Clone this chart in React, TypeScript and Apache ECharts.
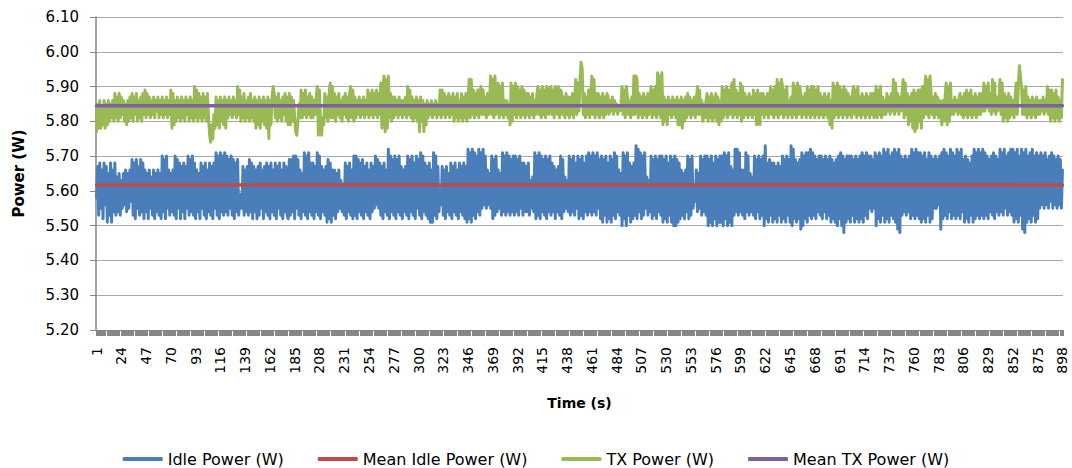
import React, { useEffect, useRef } from "react";
import * as echarts from "echarts";

// Idle power (W), one value per second
const idleA = [
  5.58, 5.67, 5.53, 5.68, 5.55, 5.66, 5.52, 5.68, 5.56, 5.67, 5.51, 5.65, 5.53, 5.68, 5.51, 5.66, 5.54, 5.68, 5.53, 5.64,
  5.54, 5.65, 5.53, 5.63, 5.55, 5.65, 5.56, 5.66, 5.54, 5.65, 5.55, 5.66, 5.57, 5.69, 5.53, 5.68, 5.52, 5.69, 5.55, 5.67,
  5.53, 5.69, 5.54, 5.68, 5.52, 5.66, 5.54, 5.65, 5.52, 5.66, 5.55, 5.64, 5.53, 5.66, 5.52, 5.65, 5.54, 5.66, 5.53, 5.65,
  5.52, 5.70, 5.54, 5.69, 5.52, 5.70, 5.55, 5.66, 5.53, 5.65, 5.54, 5.66, 5.53, 5.70, 5.52, 5.69, 5.55, 5.68, 5.52, 5.67,
  5.54, 5.68, 5.52, 5.67, 5.55, 5.70, 5.53, 5.69, 5.54, 5.70, 5.53, 5.68, 5.52, 5.66, 5.54, 5.65, 5.52, 5.68, 5.55, 5.67,
];
const idleB = [
  5.53, 5.68, 5.52, 5.66, 5.54, 5.68, 5.53, 5.67, 5.52, 5.68, 5.55, 5.71, 5.53, 5.70, 5.52, 5.71, 5.54, 5.70, 5.53, 5.71,
  5.54, 5.70, 5.53, 5.69, 5.55, 5.70, 5.53, 5.69, 5.52, 5.68, 5.54, 5.69, 5.53, 5.57, 5.59, 5.55, 5.67, 5.53, 5.66, 5.54,
  5.67, 5.53, 5.69, 5.54, 5.68, 5.52, 5.67, 5.54, 5.66, 5.52, 5.67, 5.53, 5.68, 5.55, 5.66, 5.52, 5.67, 5.54, 5.68, 5.53,
  5.67, 5.52, 5.68, 5.54, 5.66, 5.53, 5.68, 5.52, 5.67, 5.55, 5.68, 5.53, 5.66, 5.52, 5.68, 5.54, 5.67, 5.53, 5.52, 5.69,
  5.53, 5.69, 5.54, 5.70, 5.52, 5.70, 5.55, 5.69, 5.53, 5.66, 5.52, 5.65, 5.54, 5.71, 5.53, 5.70, 5.52, 5.71, 5.54, 5.68,
];
const idleC = [
  5.53, 5.68, 5.52, 5.67, 5.54, 5.71, 5.53, 5.70, 5.52, 5.67, 5.54, 5.66, 5.53, 5.67, 5.51, 5.69, 5.52, 5.68, 5.51, 5.66,
  5.53, 5.66, 5.52, 5.65, 5.54, 5.66, 5.55, 5.63, 5.54, 5.62, 5.53, 5.68, 5.52, 5.67, 5.54, 5.68, 5.53, 5.66, 5.52, 5.70,
  5.53, 5.70, 5.52, 5.69, 5.54, 5.68, 5.53, 5.69, 5.52, 5.67, 5.54, 5.68, 5.53, 5.66, 5.52, 5.68, 5.54, 5.67, 5.55, 5.70,
  5.56, 5.69, 5.55, 5.68, 5.53, 5.67, 5.52, 5.68, 5.54, 5.66, 5.53, 5.72, 5.52, 5.70, 5.54, 5.69, 5.53, 5.70, 5.52, 5.69,
  5.54, 5.70, 5.53, 5.67, 5.52, 5.66, 5.54, 5.67, 5.53, 5.70, 5.52, 5.69, 5.54, 5.70, 5.53, 5.68, 5.52, 5.70, 5.55, 5.69,
];
const idleD = [
  5.53, 5.71, 5.52, 5.70, 5.54, 5.68, 5.53, 5.67, 5.52, 5.68, 5.51, 5.66, 5.51, 5.71, 5.53, 5.70, 5.52, 5.67, 5.54, 5.60,
  5.56, 5.67, 5.53, 5.66, 5.52, 5.67, 5.54, 5.65, 5.53, 5.68, 5.52, 5.67, 5.54, 5.68, 5.53, 5.66, 5.52, 5.68, 5.54, 5.67,
  5.53, 5.68, 5.52, 5.67, 5.51, 5.72, 5.52, 5.71, 5.51, 5.72, 5.53, 5.71, 5.52, 5.70, 5.54, 5.72, 5.53, 5.71, 5.55, 5.72,
  5.56, 5.70, 5.55, 5.66, 5.56, 5.65, 5.55, 5.70, 5.52, 5.69, 5.53, 5.70, 5.54, 5.66, 5.55, 5.65, 5.53, 5.71, 5.54, 5.70,
  5.53, 5.71, 5.54, 5.70, 5.53, 5.69, 5.54, 5.70, 5.53, 5.70, 5.54, 5.69, 5.53, 5.70, 5.55, 5.68, 5.53, 5.68, 5.54, 5.67,
];
const idleE = [
  5.54, 5.68, 5.53, 5.63, 5.55, 5.64, 5.54, 5.71, 5.52, 5.70, 5.53, 5.71, 5.52, 5.70, 5.54, 5.69, 5.53, 5.70, 5.52, 5.69,
  5.54, 5.70, 5.53, 5.68, 5.54, 5.67, 5.52, 5.66, 5.54, 5.67, 5.53, 5.70, 5.52, 5.69, 5.54, 5.64, 5.55, 5.63, 5.54, 5.70,
  5.53, 5.69, 5.54, 5.70, 5.53, 5.68, 5.55, 5.70, 5.52, 5.69, 5.53, 5.70, 5.52, 5.68, 5.54, 5.70, 5.53, 5.71, 5.54, 5.70,
  5.53, 5.71, 5.54, 5.70, 5.53, 5.71, 5.55, 5.69, 5.52, 5.70, 5.51, 5.69, 5.53, 5.70, 5.51, 5.68, 5.52, 5.70, 5.51, 5.69,
  5.53, 5.71, 5.52, 5.70, 5.54, 5.66, 5.53, 5.65, 5.50, 5.71, 5.52, 5.70, 5.50, 5.71, 5.53, 5.68, 5.51, 5.67, 5.52, 5.68,
];
const idleF = [
  5.53, 5.73, 5.52, 5.72, 5.54, 5.71, 5.52, 5.70, 5.53, 5.71, 5.55, 5.64, 5.53, 5.63, 5.54, 5.70, 5.52, 5.69, 5.53, 5.70,
  5.52, 5.69, 5.54, 5.70, 5.53, 5.70, 5.51, 5.69, 5.52, 5.70, 5.51, 5.68, 5.53, 5.70, 5.51, 5.69, 5.50, 5.70, 5.50, 5.69,
  5.51, 5.68, 5.52, 5.66, 5.53, 5.65, 5.52, 5.66, 5.54, 5.70, 5.52, 5.69, 5.53, 5.70, 5.55, 5.60, 5.57, 5.66, 5.54, 5.65,
  5.55, 5.70, 5.53, 5.69, 5.54, 5.70, 5.53, 5.70, 5.50, 5.69, 5.51, 5.70, 5.50, 5.68, 5.52, 5.70, 5.50, 5.69, 5.51, 5.70,
  5.51, 5.70, 5.50, 5.71, 5.52, 5.70, 5.50, 5.71, 5.51, 5.67, 5.50, 5.66, 5.53, 5.72, 5.54, 5.72, 5.53, 5.71, 5.54, 5.66,
];
const idleG = [
  5.53, 5.66, 5.52, 5.71, 5.54, 5.70, 5.53, 5.65, 5.54, 5.64, 5.53, 5.70, 5.52, 5.69, 5.54, 5.70, 5.52, 5.69, 5.53, 5.70,
  5.50, 5.73, 5.52, 5.68, 5.51, 5.69, 5.53, 5.68, 5.51, 5.68, 5.52, 5.67, 5.51, 5.68, 5.53, 5.67, 5.51, 5.70, 5.52, 5.69,
  5.51, 5.70, 5.53, 5.69, 5.51, 5.73, 5.50, 5.72, 5.52, 5.69, 5.51, 5.68, 5.52, 5.69, 5.49, 5.71, 5.50, 5.70, 5.52, 5.71,
  5.51, 5.71, 5.53, 5.72, 5.52, 5.71, 5.53, 5.70, 5.52, 5.69, 5.54, 5.70, 5.53, 5.70, 5.52, 5.69, 5.54, 5.70, 5.52, 5.69,
  5.53, 5.70, 5.51, 5.69, 5.52, 5.68, 5.51, 5.69, 5.50, 5.70, 5.52, 5.71, 5.50, 5.70, 5.48, 5.69, 5.51, 5.70, 5.52, 5.70,
];
const idleH = [
  5.51, 5.70, 5.53, 5.69, 5.51, 5.70, 5.52, 5.69, 5.51, 5.70, 5.52, 5.71, 5.51, 5.70, 5.53, 5.71, 5.52, 5.70, 5.55, 5.70,
  5.54, 5.69, 5.55, 5.71, 5.50, 5.70, 5.52, 5.71, 5.51, 5.70, 5.53, 5.72, 5.51, 5.71, 5.52, 5.72, 5.51, 5.70, 5.53, 5.71,
  5.52, 5.72, 5.51, 5.71, 5.49, 5.72, 5.48, 5.70, 5.53, 5.69, 5.54, 5.70, 5.53, 5.69, 5.54, 5.70, 5.52, 5.72, 5.53, 5.71,
  5.52, 5.72, 5.53, 5.71, 5.52, 5.71, 5.51, 5.70, 5.52, 5.71, 5.51, 5.69, 5.53, 5.71, 5.51, 5.70, 5.52, 5.69, 5.55, 5.70,
  5.55, 5.69, 5.56, 5.70, 5.49, 5.71, 5.52, 5.72, 5.53, 5.71, 5.52, 5.70, 5.54, 5.72, 5.52, 5.71, 5.53, 5.70, 5.52, 5.72,
];
const idleI = [
  5.53, 5.71, 5.52, 5.72, 5.54, 5.69, 5.51, 5.70, 5.52, 5.69, 5.51, 5.68, 5.53, 5.70, 5.51, 5.72, 5.52, 5.71, 5.53, 5.72,
  5.52, 5.71, 5.53, 5.72, 5.52, 5.71, 5.53, 5.70, 5.52, 5.69, 5.54, 5.70, 5.53, 5.71, 5.52, 5.70, 5.54, 5.69, 5.53, 5.72,
  5.54, 5.71, 5.53, 5.72, 5.55, 5.70, 5.53, 5.71, 5.54, 5.72, 5.53, 5.72, 5.51, 5.71, 5.52, 5.72, 5.51, 5.70, 5.53, 5.72,
  5.49, 5.71, 5.48, 5.72, 5.51, 5.70, 5.52, 5.71, 5.51, 5.72, 5.53, 5.70, 5.51, 5.71, 5.52, 5.70, 5.55, 5.71, 5.56, 5.70,
  5.55, 5.71, 5.56, 5.69, 5.55, 5.70, 5.57, 5.71, 5.55, 5.70, 5.56, 5.69, 5.55, 5.70, 5.56, 5.69, 5.55, 5.66,
];

// TX power (W), one value per second
const txA = [
  5.77, 5.85, 5.78, 5.86, 5.78, 5.84, 5.79, 5.86, 5.78, 5.85, 5.79, 5.86, 5.80, 5.85, 5.81, 5.86, 5.80, 5.88, 5.81, 5.87,
  5.80, 5.88, 5.81, 5.87, 5.82, 5.86, 5.80, 5.85, 5.79, 5.86, 5.80, 5.87, 5.81, 5.88, 5.80, 5.87, 5.82, 5.88, 5.80, 5.86,
  5.81, 5.87, 5.80, 5.88, 5.82, 5.89, 5.81, 5.88, 5.82, 5.87, 5.81, 5.86, 5.82, 5.87, 5.81, 5.86, 5.83, 5.87, 5.81, 5.86,
  5.82, 5.87, 5.81, 5.86, 5.82, 5.87, 5.81, 5.86, 5.82, 5.89, 5.78, 5.88, 5.79, 5.86, 5.80, 5.87, 5.81, 5.86, 5.80, 5.87,
  5.81, 5.86, 5.80, 5.87, 5.82, 5.86, 5.80, 5.87, 5.81, 5.86, 5.80, 5.90, 5.81, 5.89, 5.80, 5.88, 5.81, 5.87, 5.80, 5.88,
];
const txB = [
  5.81, 5.87, 5.80, 5.88, 5.81, 5.76, 5.74, 5.79, 5.75, 5.82, 5.78, 5.87, 5.79, 5.86, 5.78, 5.87, 5.80, 5.86, 5.79, 5.87,
  5.78, 5.86, 5.81, 5.87, 5.82, 5.86, 5.81, 5.87, 5.82, 5.86, 5.81, 5.90, 5.82, 5.89, 5.80, 5.87, 5.81, 5.88, 5.80, 5.86,
  5.81, 5.87, 5.80, 5.88, 5.81, 5.86, 5.80, 5.87, 5.78, 5.86, 5.79, 5.87, 5.78, 5.86, 5.80, 5.87, 5.79, 5.86, 5.78, 5.87,
  5.75, 5.86, 5.79, 5.87, 5.90, 5.88, 5.81, 5.87, 5.80, 5.88, 5.81, 5.86, 5.80, 5.87, 5.82, 5.88, 5.80, 5.87, 5.79, 5.88,
  5.79, 5.87, 5.80, 5.86, 5.81, 5.77, 5.76, 5.80, 5.85, 5.81, 5.89, 5.81, 5.88, 5.82, 5.89, 5.81, 5.87, 5.82, 5.88, 5.81,
];
const txC = [
  5.87, 5.81, 5.86, 5.82, 5.87, 5.90, 5.76, 5.89, 5.80, 5.76, 5.81, 5.79, 5.88, 5.81, 5.87, 5.80, 5.88, 5.91, 5.81, 5.90,
  5.81, 5.88, 5.80, 5.87, 5.82, 5.88, 5.81, 5.86, 5.80, 5.87, 5.82, 5.88, 5.81, 5.87, 5.80, 5.88, 5.90, 5.81, 5.89, 5.80,
  5.87, 5.81, 5.86, 5.82, 5.87, 5.81, 5.86, 5.82, 5.87, 5.81, 5.86, 5.82, 5.89, 5.81, 5.88, 5.82, 5.89, 5.81, 5.88, 5.82,
  5.89, 5.81, 5.88, 5.82, 5.91, 5.78, 5.90, 5.93, 5.77, 5.92, 5.78, 5.93, 5.81, 5.88, 5.80, 5.87, 5.81, 5.87, 5.82, 5.86,
  5.81, 5.87, 5.82, 5.86, 5.81, 5.86, 5.82, 5.87, 5.81, 5.90, 5.82, 5.89, 5.81, 5.87, 5.80, 5.86, 5.81, 5.87, 5.80, 5.86,
];
const txD = [
  5.77, 5.87, 5.80, 5.86, 5.77, 5.85, 5.79, 5.86, 5.81, 5.85, 5.82, 5.86, 5.81, 5.85, 5.82, 5.86, 5.81, 5.85, 5.82, 5.89,
  5.81, 5.89, 5.82, 5.88, 5.81, 5.87, 5.82, 5.88, 5.81, 5.87, 5.82, 5.88, 5.80, 5.87, 5.81, 5.88, 5.80, 5.86, 5.81, 5.88,
  5.80, 5.87, 5.81, 5.88, 5.80, 5.86, 5.92, 5.81, 5.92, 5.82, 5.89, 5.81, 5.88, 5.82, 5.89, 5.81, 5.88, 5.90, 5.82, 5.89,
  5.82, 5.87, 5.81, 5.88, 5.82, 5.86, 5.93, 5.82, 5.92, 5.81, 5.93, 5.82, 5.90, 5.91, 5.81, 5.90, 5.82, 5.91, 5.81, 5.86,
  5.82, 5.86, 5.81, 5.85, 5.79, 5.91, 5.80, 5.90, 5.82, 5.91, 5.81, 5.90, 5.82, 5.89, 5.81, 5.90, 5.82, 5.89, 5.81, 5.88,
];
const txE = [
  5.82, 5.88, 5.81, 5.87, 5.82, 5.88, 5.81, 5.86, 5.82, 5.88, 5.90, 5.82, 5.89, 5.81, 5.90, 5.82, 5.89, 5.81, 5.90, 5.89,
  5.82, 5.89, 5.90, 5.82, 5.89, 5.81, 5.90, 5.89, 5.82, 5.90, 5.81, 5.89, 5.88, 5.82, 5.87, 5.81, 5.88, 5.82, 5.87, 5.81,
  5.87, 5.82, 5.88, 5.81, 5.86, 5.92, 5.82, 5.91, 5.83, 5.92, 5.97, 5.95, 5.82, 5.88, 5.81, 5.87, 5.82, 5.89, 5.81, 5.88,
  5.93, 5.82, 5.92, 5.81, 5.88, 5.82, 5.88, 5.81, 5.87, 5.82, 5.88, 5.81, 5.87, 5.82, 5.88, 5.87, 5.82, 5.86, 5.83, 5.87,
  5.82, 5.86, 5.83, 5.85, 5.82, 5.84, 5.83, 5.85, 5.90, 5.82, 5.89, 5.81, 5.90, 5.87, 5.82, 5.86, 5.81, 5.87, 5.82, 5.93,
];
const txF = [
  5.82, 5.93, 5.92, 5.81, 5.88, 5.82, 5.87, 5.81, 5.88, 5.82, 5.87, 5.81, 5.88, 5.82, 5.87, 5.90, 5.81, 5.89, 5.82, 5.90,
  5.81, 5.94, 5.82, 5.93, 5.81, 5.94, 5.79, 5.87, 5.80, 5.86, 5.79, 5.87, 5.82, 5.86, 5.81, 5.87, 5.82, 5.86, 5.81, 5.87,
  5.79, 5.86, 5.79, 5.87, 5.78, 5.86, 5.80, 5.87, 5.81, 5.88, 5.82, 5.87, 5.81, 5.86, 5.82, 5.87, 5.81, 5.86, 5.90, 5.82,
  5.89, 5.82, 5.86, 5.80, 5.85, 5.81, 5.86, 5.88, 5.80, 5.87, 5.81, 5.88, 5.80, 5.87, 5.81, 5.88, 5.80, 5.87, 5.79, 5.86,
  5.80, 5.90, 5.81, 5.89, 5.82, 5.90, 5.81, 5.89, 5.82, 5.88, 5.91, 5.81, 5.92, 5.82, 5.89, 5.81, 5.88, 5.82, 5.91, 5.80,
];
const txG = [
  5.90, 5.81, 5.88, 5.82, 5.87, 5.81, 5.88, 5.82, 5.87, 5.81, 5.89, 5.82, 5.88, 5.79, 5.89, 5.80, 5.79, 5.88, 5.82, 5.88,
  5.81, 5.87, 5.82, 5.88, 5.81, 5.87, 5.90, 5.82, 5.89, 5.81, 5.90, 5.82, 5.92, 5.81, 5.91, 5.82, 5.92, 5.90, 5.81, 5.89,
  5.82, 5.90, 5.81, 5.86, 5.82, 5.87, 5.81, 5.91, 5.82, 5.90, 5.81, 5.91, 5.82, 5.90, 5.88, 5.81, 5.87, 5.82, 5.88, 5.81,
  5.90, 5.82, 5.89, 5.81, 5.90, 5.82, 5.90, 5.81, 5.89, 5.82, 5.90, 5.81, 5.88, 5.82, 5.87, 5.81, 5.88, 5.82, 5.87, 5.81,
  5.88, 5.79, 5.86, 5.78, 5.91, 5.81, 5.90, 5.82, 5.91, 5.81, 5.90, 5.82, 5.89, 5.81, 5.90, 5.82, 5.89, 5.81, 5.88, 5.82,
];
const txH = [
  5.87, 5.81, 5.88, 5.90, 5.82, 5.89, 5.81, 5.90, 5.82, 5.87, 5.81, 5.88, 5.82, 5.87, 5.81, 5.88, 5.82, 5.87, 5.81, 5.88,
  5.82, 5.88, 5.81, 5.87, 5.90, 5.81, 5.89, 5.82, 5.90, 5.81, 5.87, 5.82, 5.86, 5.82, 5.88, 5.83, 5.87, 5.82, 5.88, 5.83,
  5.92, 5.82, 5.91, 5.83, 5.88, 5.82, 5.87, 5.83, 5.88, 5.92, 5.81, 5.91, 5.82, 5.88, 5.79, 5.87, 5.80, 5.88, 5.78, 5.89,
  5.77, 5.88, 5.78, 5.89, 5.80, 5.89, 5.78, 5.90, 5.81, 5.89, 5.93, 5.82, 5.92, 5.81, 5.93, 5.88, 5.82, 5.87, 5.81, 5.88,
  5.82, 5.87, 5.81, 5.86, 5.82, 5.79, 5.86, 5.80, 5.87, 5.91, 5.79, 5.90, 5.80, 5.91, 5.82, 5.86, 5.82, 5.87, 5.83, 5.86,
];
const txI = [
  5.82, 5.87, 5.88, 5.82, 5.87, 5.81, 5.88, 5.82, 5.89, 5.81, 5.88, 5.82, 5.89, 5.81, 5.87, 5.82, 5.88, 5.81, 5.87, 5.82,
  5.88, 5.82, 5.88, 5.83, 5.91, 5.83, 5.90, 5.84, 5.91, 5.83, 5.88, 5.82, 5.92, 5.83, 5.91, 5.82, 5.87, 5.83, 5.86, 5.92,
  5.82, 5.91, 5.80, 5.88, 5.81, 5.87, 5.80, 5.88, 5.81, 5.87, 5.82, 5.86, 5.81, 5.87, 5.91, 5.82, 5.90, 5.96, 5.93, 5.90,
  5.82, 5.89, 5.82, 5.90, 5.81, 5.87, 5.82, 5.86, 5.81, 5.87, 5.82, 5.86, 5.81, 5.87, 5.82, 5.86, 5.82, 5.86, 5.83, 5.87,
  5.82, 5.86, 5.83, 5.90, 5.82, 5.89, 5.80, 5.89, 5.81, 5.88, 5.80, 5.89, 5.81, 5.87, 5.80, 5.86, 5.81, 5.92,
];

const meanIdlePower = 5.617;
const meanTxPower = 5.845;
const sampleCount = 898;

const seriesNames = ["Idle Power (W)", "Mean Idle Power (W)", "TX Power (W)", "Mean TX Power (W)"];
const seriesColors = ["#4a7ebb", "#be4b48", "#98b954", "#7d60a0"];

const yMin = 5.2;
const yMax = 6.1;
const yStep = 0.1;

export default function App() {
  const ref = useRef<HTMLDivElement>(null);

  useEffect(() => {
    if (!ref.current) return;
    const chart = echarts.init(ref.current, undefined, { renderer: "svg" });

    const idlePower = [...idleA, ...idleB, ...idleC, ...idleD, ...idleE, ...idleF, ...idleG, ...idleH, ...idleI];
    const txPower = [...txA, ...txB, ...txC, ...txD, ...txE, ...txF, ...txG, ...txH, ...txI];
    const timeLabels = Array.from({ length: sampleCount }, (_, i) => String(i + 1));
    const meanIdle = timeLabels.map(() => meanIdlePower);
    const meanTx = timeLabels.map(() => meanTxPower);

    const font = "DejaVu Sans";
    const lineSeries = (name: string, data: number[], color: string, width: number) => ({
      name,
      type: "line",
      data,
      symbol: "none",
      showSymbol: false,
      lineStyle: { color, width, cap: "round", join: "round" },
      itemStyle: { color },
      emphasis: { disabled: true },
      silent: true,
    });

    chart.setOption({
      animation: false,
      textStyle: { fontFamily: font },
      grid: { left: 96, right: 9, top: 17, bottom: 138, containLabel: false },
      legend: {
        data: seriesNames,
        top: 446,
        left: "center",
        icon: "roundRect",
        itemWidth: 40,
        itemHeight: 4,
        itemGap: 34,
        textStyle: { fontFamily: font, fontSize: 16, color: "#000" },
        selectedMode: false,
      },
      xAxis: {
        type: "category",
        data: timeLabels,
        boundaryGap: true,
        name: "Time (s)",
        nameLocation: "middle",
        nameGap: 66,
        nameTextStyle: { fontFamily: font, fontWeight: "bold", fontSize: 14, color: "#000" },
        axisLine: { show: true, lineStyle: { color: "#868686", width: 1 } },
        axisTick: { show: true, interval: 0, length: 6, lineStyle: { color: "#868686", width: 1 } },
        axisLabel: { interval: 22, rotate: 90, margin: 17, fontFamily: font, fontSize: 14, color: "#000" },
        splitLine: { show: false },
      },
      yAxis: {
        type: "value",
        min: yMin,
        max: yMax,
        interval: yStep,
        name: "Power (W)",
        nameLocation: "middle",
        nameRotate: 90,
        nameGap: 70,
        nameTextStyle: { fontFamily: font, fontWeight: "bold", fontSize: 15, color: "#000" },
        axisLine: { show: true, lineStyle: { color: "#868686", width: 1.5 } },
        axisTick: { show: true, length: 6, lineStyle: { color: "#868686" } },
        axisLabel: {
          margin: 17,
          fontFamily: font,
          fontSize: 15,
          color: "#000",
          formatter: (v: number) => v.toFixed(2),
        },
        splitLine: { show: true, lineStyle: { color: "#a8a8a8", width: 1 } },
      },
      series: [
        lineSeries(seriesNames[0], idlePower, seriesColors[0], 3),
        lineSeries(seriesNames[1], meanIdle, seriesColors[1], 3.5),
        lineSeries(seriesNames[2], txPower, seriesColors[2], 3),
        lineSeries(seriesNames[3], meanTx, seriesColors[3], 3.5),
      ],
    });

    return () => chart.dispose();
  }, []);

  return (
    <div
      ref={ref}
      style={{ position: "absolute", left: 0, top: 0, width: 1072, height: 468 }}
    />
  );
}
